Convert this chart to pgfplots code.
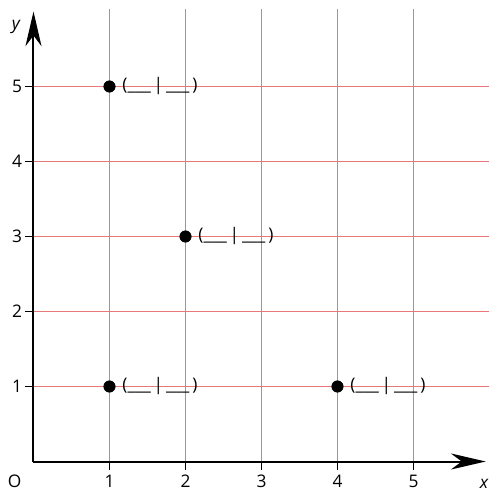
\documentclass[border=0pt]{standalone}
\usepackage{fontspec}
\setmainfont{Open Sans}
\usepackage{pgfplots}
\pgfplotsset{compat=1.18}
\usetikzlibrary{arrows.meta}

\definecolor{gridred}{RGB}{230,120,120}

\begin{document}
\begin{tikzpicture}[font=\fontsize{13pt}{15pt}\selectfont]
\useasboundingbox (-25.125pt,-24.375pt) rectangle (341.625pt,346.125pt);
\begin{axis}[
    scale only axis,
    width=342pt, height=339.1875pt,
    xmin=0, xmax=6, ymin=0, ymax=6.03,
    xtick={1,2,3,4,5}, ytick={1,2,3,4,5},
    axis line style={draw=none},
    xtick pos=lower, ytick pos=left,
    xtick align=outside, ytick align=outside,
    major tick length=6.5pt,
    every tick/.style={draw=black, line width=1.3pt},
    grid=major,
    major grid style={draw=gridred, line width=0.75pt},
    /pgf/number format/assume math mode=true,
    yticklabel style={xshift=1.5pt},
    clip=false,
]
\draw[line width=1.5pt, -{Stealth[length=26pt, width=12pt, inset=8pt]}]
    (axis cs:0,0) -- (axis cs:5.95,0);
\draw[line width=1.5pt, -{Stealth[length=26pt, width=12pt, inset=8pt]}]
    (axis cs:0,0) -- (axis cs:0,6.0);

\addplot[only marks, mark=*, mark size=4.3pt, black,
    nodes near coords={(\_\_\_\,|\,\_\_\_\,)},
    every node near coord/.style={anchor=west, xshift=9.5pt, inner sep=0pt, text=black}]
    coordinates {(1,5) (2,3) (1,1) (4,1)};

\node at (axis cs:-0.225,5.8) {\textit{y}};
\node at (axis cs:5.93,-0.3) {\textit{x}};
\node at (axis cs:-0.25,-0.27) {O};
\end{axis}
\end{tikzpicture}
\end{document}
